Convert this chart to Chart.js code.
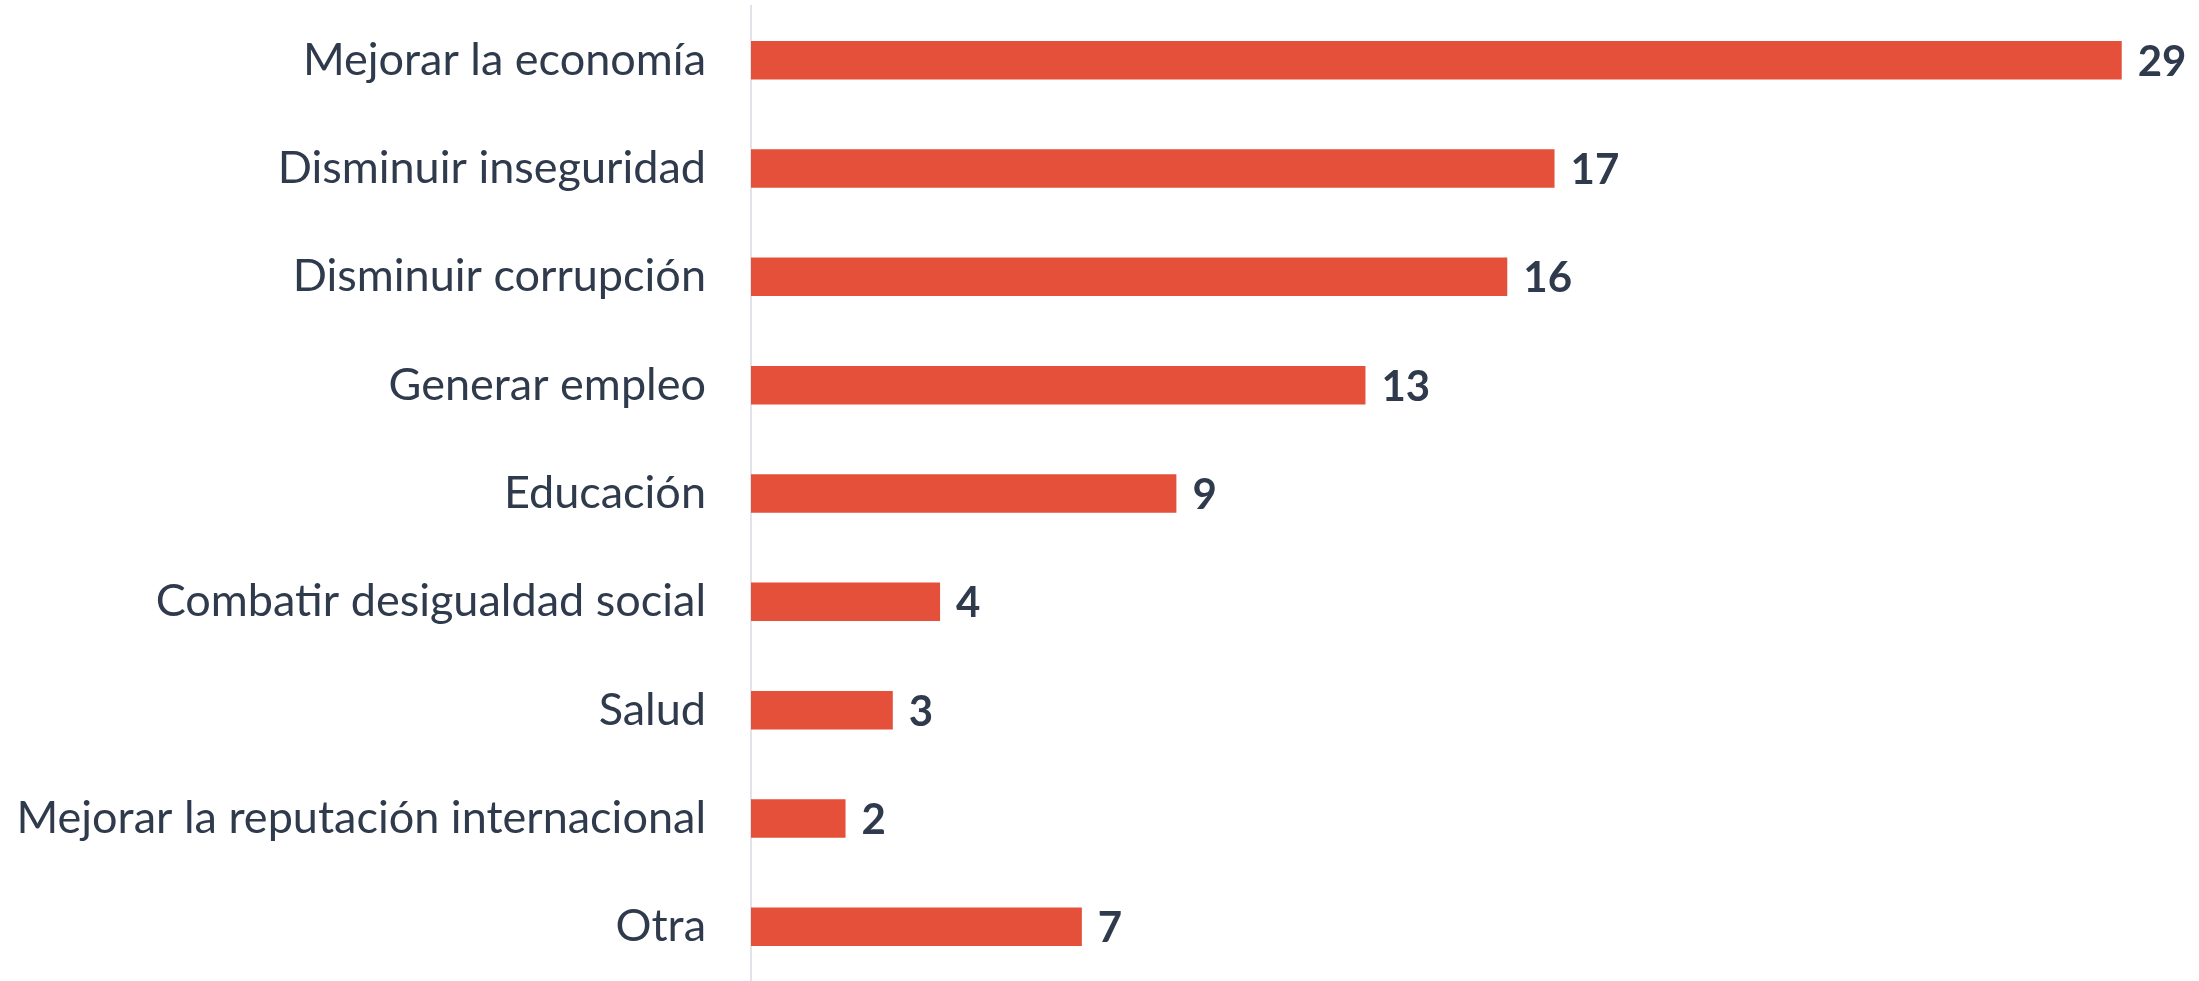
<!DOCTYPE html>
<html>
<head>
<meta charset="utf-8">
<script src="https://cdn.jsdelivr.net/npm/chart.js@4/dist/chart.umd.min.js"></script>
<style>
  html, body { margin: 0; padding: 0; background: #ffffff; }
  #wrap { width: 2199px; height: 981px; position: relative; }
</style>
</head>
<body>
<div id="wrap"><canvas id="c"></canvas></div>
<script>
const categories = [
  "Mejorar la economía",
  "Disminuir inseguridad",
  "Disminuir corrupción",
  "Generar empleo",
  "Educación",
  "Combatir desigualdad social",
  "Salud",
  "Mejorar la reputación internacional",
  "Otra"
];
const values = [29, 17, 16, 13, 9, 4, 3, 2, 7];

const TEXT = "#2F3B4C";
const BAR = "#E4503A";

const valueLabels = {
  id: "valueLabels",
  afterDatasetsDraw(chart) {
    const ctx = chart.ctx;
    const meta = chart.getDatasetMeta(0);
    ctx.save();
    ctx.fillStyle = TEXT;
    ctx.font = "bold 42px Lato";
    ctx.textAlign = "left";
    ctx.textBaseline = "middle";
    meta.data.forEach((bar, i) => {
      ctx.fillText(String(values[i]), bar.x + 16, bar.y + 2);
    });
    ctx.restore();
  }
};

new Chart(document.getElementById("c"), {
  type: "bar",
  data: {
    labels: categories,
    datasets: [{
      data: values,
      backgroundColor: BAR,
      borderWidth: 0,
      categoryPercentage: 1,
      barPercentage: 0.355
    }]
  },
  options: {
    indexAxis: "y",
    responsive: true,
    maintainAspectRatio: false,
    animation: false,
    layout: { padding: { top: 6, right: 30, bottom: 0, left: 0 } },
    plugins: { legend: { display: false }, tooltip: { enabled: false } },
    scales: {
      x: {
        display: false,
        min: 0,
        max: 30
      },
      y: {
        afterFit(scale) {
          scale.width = 751;
          scale.paddingTop = 0;
          scale.paddingBottom = 0;
        },
        border: { display: true, color: "#E0E4EA", width: 2 },
        grid: { display: false, drawTicks: false },
        ticks: {
          color: TEXT,
          font: { family: "Lato", size: 45 },
          padding: 45
        }
      }
    }
  },
  plugins: [valueLabels]
});
</script>
</body>
</html>
